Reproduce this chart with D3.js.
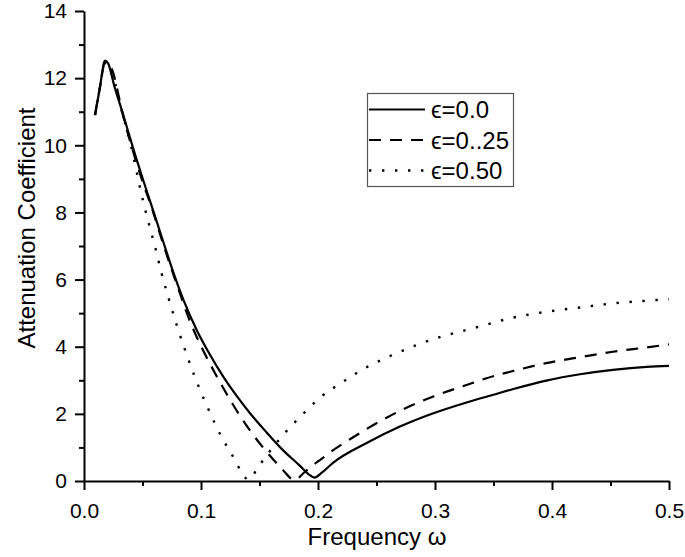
<!DOCTYPE html>
<html>
<head>
<meta charset="utf-8">
<script src="https://cdn.jsdelivr.net/npm/d3@7"></script>
<style>
  html, body { margin: 0; padding: 0; background: #fff; }
  svg { display: block; font-family: "Liberation Sans", Arial, sans-serif; }
</style>
</head>
<body>
<svg id="chart" width="685" height="557"></svg>
<script>
// ---- data ----
const xTicks = [0, 0.1, 0.2, 0.3, 0.4, 0.5];
const xMinorTicks = [0.05, 0.15, 0.25, 0.35, 0.45];
const yTicks = [0, 2, 4, 6, 8, 10, 12, 14];
const yMinorTicks = [1, 3, 5, 7, 9, 11, 13];
const seriesLabels = ["ϵ=0.0", "ϵ=0..25", "ϵ=0.50"];

const eps000 = [
  [0.0094,10.90],[0.0135,11.70],[0.0179,12.52],[0.0205,12.45],[0.026,11.75],
  [0.0336,10.90],[0.0421,9.90],[0.0507,8.95],[0.0571,8.27],[0.0678,7.12],
  [0.0763,6.22],[0.0849,5.40],[0.0963,4.50],[0.1077,3.76],[0.119,3.11],
  [0.1319,2.47],[0.1419,2.02],[0.156,1.45],[0.170,0.92],[0.1846,0.45],
  [0.192,0.20],[0.197,0.10],[0.203,0.24],[0.2128,0.54],[0.2416,1.13],
  [0.270,1.62],[0.298,2.01],[0.327,2.34],[0.350,2.57],[0.367,2.74],
  [0.395,2.99],[0.424,3.18],[0.452,3.31],[0.481,3.40],[0.500,3.43]
];
const eps025 = [
  [0.0094,10.90],[0.0135,11.70],[0.018,12.45],[0.021,12.45],[0.024,12.25],
  [0.0336,10.85],[0.0421,9.80],[0.0507,8.85],[0.0578,8.15],[0.0635,7.52],
  [0.0692,6.90],[0.0749,6.30],[0.0815,5.64],[0.0877,5.02],[0.0949,4.40],
  [0.1034,3.78],[0.112,3.21],[0.1205,2.68],[0.1274,2.27],[0.142,1.50],
  [0.156,0.87],[0.170,0.33],[0.178,0.05],[0.181,0.03],[0.186,0.18],
  [0.193,0.40],[0.203,0.66],[0.213,0.92],[0.228,1.26],[0.2416,1.55],
  [0.270,2.09],[0.298,2.51],[0.327,2.86],[0.344,3.06],[0.367,3.28],
  [0.395,3.51],[0.424,3.69],[0.452,3.85],[0.481,3.98],[0.500,4.07]
];
const eps050 = [
  [0.0094,10.90],[0.0135,11.70],[0.018,12.45],[0.0215,12.40],[0.0245,12.10],
  [0.0336,10.85],[0.0393,10.11],[0.0444,9.31],[0.0493,8.52],[0.055,7.72],
  [0.0607,6.98],[0.0663,6.19],[0.0726,5.41],[0.0792,4.65],[0.0866,3.88],
  [0.0943,3.14],[0.1026,2.43],[0.1077,2.03],[0.1177,1.30],[0.129,0.63],
  [0.1348,0.25],[0.1405,0.04],[0.149,0.42],[0.156,0.76],[0.169,1.32],
  [0.176,1.60],[0.186,1.95],[0.193,2.20],[0.2017,2.48],[0.2216,2.96],
  [0.2416,3.39],[0.2615,3.72],[0.2843,4.05],[0.3056,4.30],[0.327,4.50],
  [0.340,4.62],[0.367,4.87],[0.395,5.04],[0.424,5.17],[0.452,5.29],
  [0.481,5.37],[0.500,5.41]
];

const series = [eps000, eps025, eps050];
const dashes = [null, "12,9", "2.4,10.6"];

// ---- layout ----
const svg = d3.select("#chart");
const x = d3.scaleLinear().domain([0, 0.5]).range([84, 669]);
const y = d3.scaleLinear().domain([0, 14]).range([481, 11]);
const FS = "21px";
const FT = "24px";

// axes
svg.append("g").attr("transform", `translate(0,${y(0)})`)
  .call(d3.axisBottom(x).tickValues(xTicks).tickFormat(d3.format(".1f"))
    .tickSize(9).tickSizeOuter(0).tickPadding(13));
svg.append("g").attr("transform", `translate(0,${y(0)})`)
  .call(d3.axisBottom(x).tickValues(xMinorTicks).tickFormat("")
    .tickSize(5).tickSizeOuter(0))
  .select(".domain").remove();

svg.append("g").attr("transform", `translate(${x(0)},0)`)
  .call(d3.axisLeft(y).tickValues(yTicks).tickFormat(d3.format("d"))
    .tickSize(9).tickSizeOuter(0).tickPadding(8));
svg.append("g").attr("transform", `translate(${x(0)},0)`)
  .call(d3.axisLeft(y).tickValues(yMinorTicks).tickFormat("")
    .tickSize(5).tickSizeOuter(0))
  .select(".domain").remove();

svg.selectAll(".domain").attr("stroke", "#000").attr("stroke-width", 2);
svg.selectAll(".tick line").attr("stroke", "#000").attr("stroke-width", 2);
svg.selectAll(".tick text").attr("font-size", FS)
  .attr("font-family", "'Liberation Sans', Arial, sans-serif").attr("fill", "#000");

// axis titles
svg.append("text")
  .attr("transform", "translate(35,228) rotate(-90)")
  .attr("text-anchor", "middle").attr("font-size", FT).attr("fill", "#000")
  .text("Attenuation Coefficient");
svg.append("text")
  .attr("x", 377).attr("y", 545)
  .attr("text-anchor", "middle").attr("font-size", FT).attr("fill", "#000")
  .text("Frequency ω");

// curves
const line = d3.line().x(d => x(d[0])).y(d => y(d[1])).curve(d3.curveMonotoneX);
series.forEach((s, i) => {
  svg.append("path").datum(s)
    .attr("d", line)
    .attr("fill", "none")
    .attr("stroke", "#000")
    .attr("stroke-width", i === 2 ? 2.4 : 2.2)
    .attr("stroke-dasharray", dashes[i]);
});

// legend
const lg = svg.append("g");
lg.append("rect").attr("x", 367.5).attr("y", 93.5).attr("width", 146).attr("height", 93)
  .attr("fill", "#fff").attr("stroke", "#555").attr("stroke-width", 1.2);
seriesLabels.forEach((lab, i) => {
  const ly = 109.5 + i * 30.5;
  lg.append("line").attr("x1", 369).attr("x2", 425).attr("y1", ly).attr("y2", ly)
    .attr("stroke", "#000").attr("stroke-width", i === 2 ? 2.4 : 2.2)
    .attr("stroke-dasharray", dashes[i]);
  lg.append("text").attr("x", 431).attr("y", ly + 8.5)
    .attr("font-size", FT).attr("fill", "#000").text(lab);
});
</script>
</body>
</html>
